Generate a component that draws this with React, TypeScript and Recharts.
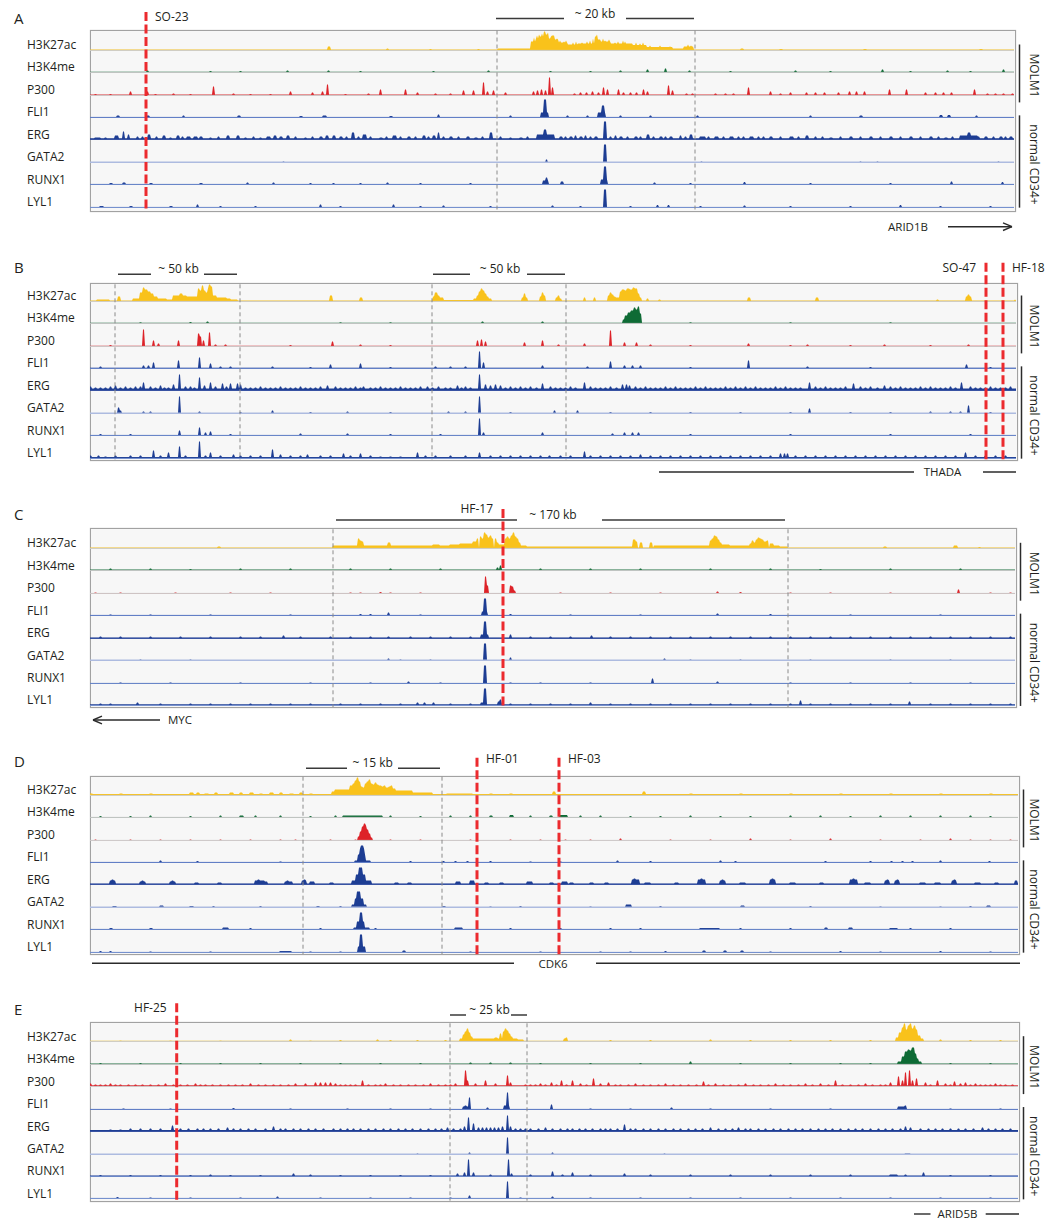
import React from 'react';
import { ComposedChart, Area, XAxis, YAxis, ReferenceLine } from 'recharts';

// A bump is [start bin, height (px of track), width in bins (default 2)]
type Bump = number[];

const TRACK_NAMES = ['H3K27ac', 'H3K4me', 'P300', 'FLI1', 'ERG', 'GATA2', 'RUNX1', 'LYL1'];
const TRACK_FILL = ['#f9c21b', '#0e6b35', '#dd2228', '#1d3d93', '#1d3d93', '#1d3d93', '#1d3d93', '#1d3d93'];
const TRACK_BASE = ['#cbcbcb', '#c6c6c6', '#cbcbcb', '#5f7dc6', '#2f4c9f', '#adbbe0', '#6684c9', '#7591cf'];
const TRACK_BASE_W = [1, 1, 1, 1, 1, 2, 1, 1];

// ---------- Panel A (ARID1B locus) ----------
const A_H3K27AC: Bump[] = [[238, 4, 3], [297, 2], [340, 1.5], [388, 1.5], [408, 2, 33], [441, 9, 5], [444, 13, 1], [446, 12, 4], [447, 15, 1], [449, 16, 1], [450, 14, 4], [452, 17, 1], [454, 19, 2], [456, 16, 3], [458, 18, 1], [459, 12, 3], [461, 14, 1], [462, 15, 3], [465, 11, 4], [467, 12, 1], [469, 8, 9], [470, 10, 1], [474, 9, 1], [476, 10, 1], [478, 6, 10], [483, 8, 1], [486, 9, 1], [488, 7, 17], [492, 8, 1], [497, 9, 1], [500, 10, 1], [503, 12, 1], [505, 14, 3], [507, 16, 1], [508, 11, 3], [511, 9, 10], [513, 12, 1], [515, 10, 1], [519, 11, 1], [521, 7, 9], [525, 8, 1], [528, 9, 1], [530, 7, 13], [533, 10, 1], [535, 9, 1], [540, 7, 1], [543, 5.5, 14], [546, 8, 1], [550, 7, 1], [553, 8, 1], [557, 3.5, 26], [560, 5, 1], [570, 5, 1], [580, 4, 1], [583, 2, 11], [594, 4, 10], [598, 6, 1], [601, 5, 1], [651, 2, 3], [690, 1.5, 3], [774, 1.5, 3], [890, 1.5, 3]];
const A_H3K4ME: Bump[] = [[57, 2], [120, 1.5], [150, 1.5], [197, 2], [238, 2], [270, 1.5], [343, 1.5], [398, 2], [460, 1.5], [500, 1.5], [530, 2], [557, 3], [575, 4], [599, 2], [640, 1.5], [705, 2], [740, 1.5], [792, 3], [820, 1.5], [857, 2], [880, 1.5], [913, 3]];
const A_P300: Bump[] = [[5, 1.5], [20, 1.5], [40, 4], [57, 4], [65, 1.5], [83, 2], [100, 1.5], [123, 9], [143, 2], [160, 1.5], [180, 1.5], [200, 4], [222, 3], [232, 4], [237, 11], [255, 1.5], [278, 2], [290, 6], [315, 6], [327, 3], [345, 2], [360, 2], [373, 5], [383, 5], [393, 13], [397, 4], [403, 5], [415, 3], [443, 4], [447, 5], [451, 6], [455, 5], [459, 18], [462, 8], [484, 2], [490, 3], [496, 3], [502, 4], [508, 3], [513, 8], [517, 6], [528, 6], [533, 3], [540, 3], [546, 3], [553, 6], [557, 4], [578, 10], [582, 5], [596, 2], [602, 2], [625, 2], [635, 2], [643, 2], [658, 8], [680, 4], [690, 2], [700, 3], [716, 3], [725, 3], [734, 3], [748, 3], [759, 4], [766, 4], [774, 4], [799, 6], [816, 6], [835, 3], [845, 3], [853, 3], [861, 3], [884, 6], [897, 2], [905, 2], [913, 2], [922, 2]];
const A_FLI1: Bump[] = [[27, 2, 3], [57, 2, 3], [93, 2], [148, 2, 3], [210, 1.5, 3], [233, 2, 4], [300, 1.5, 3], [348, 3], [420, 2], [451, 5, 8], [454, 18, 3], [477, 2], [497, 2], [508, 5, 8], [512, 12, 3], [530, 2], [560, 2], [607, 2], [720, 2], [770, 2, 3], [850, 2.5, 3], [858, 2.5, 3], [886, 2]];
const A_ERG: Bump[] = [[5, 2, 6], [15, 2], [25, 4, 4], [33, 8], [38, 5], [47, 3], [52, 3], [58, 5, 3], [66, 3], [73, 4, 3], [80, 2], [87, 4, 3], [92, 3], [97, 3, 4], [104, 3, 4], [110, 3, 3], [120, 2], [128, 3], [137, 4, 3], [147, 4, 3], [155, 2], [163, 3], [170, 2], [177, 3, 4], [184, 4, 3], [190, 3, 3], [197, 4, 3], [205, 3], [215, 2], [222, 3], [230, 3, 3], [236, 4, 3], [243, 4, 3], [250, 3, 3], [256, 3], [262, 7, 3], [268, 3], [273, 5, 4], [280, 3], [290, 2, 3], [296, 3], [303, 4, 4], [310, 3], [318, 3, 3], [325, 3], [333, 4, 3], [338, 3], [343, 4, 3], [348, 7], [353, 3], [360, 3, 3], [368, 3], [377, 3, 3], [385, 2, 3], [392, 3], [400, 7, 3], [410, 3], [420, 2], [430, 2, 3], [437, 3], [447, 5, 18], [454, 10, 3], [462, 4], [470, 3, 3], [475, 3], [480, 3, 3], [485, 4], [490, 3, 3], [495, 4], [500, 3], [505, 3, 3], [514, 18, 3], [520, 3], [525, 4], [530, 3, 3], [537, 3], [545, 3, 3], [550, 3], [557, 5, 3], [563, 3], [570, 3, 3], [575, 3], [580, 3, 3], [590, 4], [595, 3], [600, 5, 3], [610, 3, 6], [618, 3], [625, 3, 4], [633, 3], [640, 3, 4], [648, 3], [653, 3], [660, 3, 4], [668, 3], [673, 3], [680, 3, 3], [690, 3], [700, 3, 4], [708, 3], [716, 4, 3], [725, 3], [732, 3], [740, 2, 3], [750, 3], [760, 3, 3], [770, 3], [780, 3, 3], [790, 3], [800, 3, 3], [810, 3], [820, 3, 3], [830, 3], [840, 3, 3], [848, 3], [855, 2, 3], [862, 3], [870, 4, 18], [878, 7, 3], [888, 3], [895, 3, 3], [903, 3], [910, 3, 3], [915, 3], [920, 3, 3]];
const A_GATA2: Bump[] = [[193, 1], [456, 3], [514, 18, 3], [611, 1], [770, 1], [787, 1], [908, 1]];
const A_RUNX1: Bump[] = [[20, 1.5, 3], [33, 2, 3], [60, 1.5, 3], [110, 1.5, 3], [157, 2], [183, 2], [220, 1.5], [243, 1.5], [270, 1.5], [297, 2], [330, 1.5], [380, 1.5], [453, 4, 6], [456, 7], [471, 3, 3], [511, 5, 7], [514, 18, 3], [564, 2], [600, 1.5], [654, 2.5], [720, 1.5], [800, 1.5], [861, 3], [912, 2.5]];
const A_LYL1: Bump[] = [[10, 1.5, 4], [40, 1.5, 3], [80, 1.5, 3], [107, 3], [130, 1.5], [165, 1.5], [230, 3], [250, 1.5], [303, 3], [330, 1.5], [353, 2], [400, 1.5], [462, 2], [490, 1.5], [514, 18, 3], [540, 1.5], [567, 2.5], [578, 2.5], [610, 1.5], [654, 2], [700, 1.5], [760, 1.5], [810, 2.5], [850, 1.5], [900, 1.5]];
const A_FLOOR = [0.8, 0.7, 0.8, 0.5, 1.2, 0, 0.5, 0.5];

// ---------- Panel B (THADA locus) ----------
const B_H3K27AC: Bump[] = [[7, 2, 13], [28, 5, 3], [43, 3, 7], [50, 9, 3], [53, 14], [55, 12, 3], [58, 10, 3], [61, 8, 3], [64, 5, 4], [68, 3, 9], [77, 2, 6], [83, 6, 7], [90, 8, 3], [93, 6, 4], [97, 5, 11], [108, 13], [110, 11], [112, 16], [114, 11], [116, 9], [118, 13, 1], [119, 17], [121, 15], [123, 6, 4], [127, 4, 10], [137, 3, 4], [140, 2, 8], [240, 6, 3], [270, 4, 3], [343, 5], [345, 9, 3], [348, 6], [350, 4, 4], [354, 1.5, 30], [384, 3, 3], [387, 6], [389, 10], [391, 13], [393, 11], [395, 8], [397, 5], [399, 3, 3], [432, 4], [434, 8], [436, 4], [450, 5], [452, 9], [454, 6], [466, 4], [468, 6], [470, 3], [494, 4], [504, 4], [518, 6], [520, 9], [522, 7], [524, 5], [526, 4, 4], [530, 10], [532, 12, 3], [535, 11], [537, 13, 3], [540, 12, 3], [543, 14], [545, 13, 3], [548, 8], [550, 4], [557, 3], [569, 2], [658, 4, 3], [726, 4, 3], [847, 2], [876, 5], [878, 7], [880, 5], [925, 2]];
const B_H3K4ME: Bump[] = [[50, 1.2], [100, 1.5], [117, 2], [250, 1.2], [300, 1.2], [392, 2], [452, 2], [533, 4, 3], [535, 8, 3], [538, 11, 3], [541, 13, 3], [544, 16], [546, 14], [548, 17], [550, 10], [600, 1.2], [700, 1.2], [800, 1.2]];
const B_P300: Bump[] = [[20, 1.5], [53, 17], [63, 6], [68, 3], [88, 6], [108, 13], [110, 10], [113, 6], [119, 14], [125, 2], [135, 2], [200, 1.5], [242, 5], [270, 2], [300, 1.5], [387, 6], [391, 7], [395, 5], [434, 4], [452, 6], [468, 2], [494, 3], [520, 16], [534, 4], [546, 4], [560, 2], [600, 1.5], [658, 3], [700, 1.5], [717, 2], [760, 1.5], [794, 2], [840, 1.5], [878, 2]];
const B_FLI1: Bump[] = [[10, 2], [53, 3], [58, 3], [63, 6], [88, 8], [109, 11], [120, 5], [130, 2], [140, 2], [182, 2], [220, 1.5], [240, 4], [270, 5], [300, 1.5], [345, 2], [360, 2], [375, 2], [389, 17], [393, 6], [452, 3], [497, 2], [520, 7], [534, 3], [542, 3], [550, 3], [600, 1.5], [658, 8], [717, 2], [780, 1.5], [876, 4], [900, 1.5]];
const B_ERG: Bump[] = [[0, 4], [5, 3], [10, 3], [15, 3], [20, 4], [25, 5], [30, 3], [35, 4], [40, 3], [45, 4], [50, 4], [53, 8], [60, 4], [65, 3], [70, 5], [74, 3], [78, 3], [83, 6], [89, 16], [95, 4], [100, 4], [104, 3], [109, 13], [114, 5], [120, 8], [125, 4], [132, 7], [136, 4], [140, 7], [147, 7], [150, 6], [155, 3], [160, 3], [165, 3], [170, 4], [175, 3], [180, 3], [185, 3], [190, 4], [195, 3], [200, 3], [205, 3], [210, 4], [215, 3], [220, 3], [225, 3], [230, 4], [237, 5], [245, 4], [250, 3], [255, 3], [260, 3], [265, 4], [270, 3], [273, 4], [280, 3], [285, 3], [290, 4], [295, 3], [300, 3], [305, 3], [310, 4], [315, 3], [320, 3], [325, 3], [330, 4], [337, 4], [342, 3], [348, 4], [355, 3], [360, 3], [367, 5], [371, 3], [375, 4], [380, 3], [389, 16], [395, 6], [400, 5], [405, 6], [410, 5], [415, 3], [420, 4], [425, 3], [430, 4], [435, 3], [440, 4], [446, 3], [452, 7], [460, 4], [465, 3], [470, 3], [475, 3], [480, 4], [485, 3], [494, 8], [500, 4], [505, 3], [510, 3], [515, 3], [520, 4], [526, 3], [532, 6], [536, 6], [539, 5], [545, 4], [550, 3], [555, 4], [560, 3], [565, 3], [570, 3], [575, 4], [580, 3], [585, 4], [590, 3], [595, 3], [600, 3], [605, 4], [610, 3], [615, 4], [620, 3], [625, 3], [630, 3], [635, 4], [640, 3], [645, 4], [650, 3], [655, 4], [660, 3], [665, 4], [670, 3], [675, 3], [680, 3], [685, 4], [690, 3], [695, 4], [700, 3], [705, 3], [710, 3], [719, 8], [725, 4], [730, 3], [735, 4], [740, 3], [745, 3], [750, 3], [755, 4], [763, 7], [770, 4], [775, 3], [780, 4], [787, 3], [794, 5], [800, 4], [805, 3], [810, 4], [815, 3], [820, 3], [825, 3], [830, 4], [835, 3], [840, 4], [845, 3], [850, 3], [855, 3], [860, 4], [865, 3], [871, 8], [880, 4], [885, 3], [890, 3], [895, 3], [900, 4], [905, 3], [910, 3], [915, 3], [920, 4]];
const B_GATA2: Bump[] = [[28, 6], [30, 3], [53, 2], [60, 2], [89, 17], [109, 2], [150, 1.5], [182, 3], [220, 1.5], [257, 2], [300, 1.5], [358, 2], [375, 2], [389, 17], [420, 1.5], [464, 3], [487, 3], [520, 1.5], [560, 1.5], [600, 1.5], [650, 1.5], [700, 1.5], [719, 5], [760, 1.5], [800, 1.5], [840, 2], [860, 2], [870, 2], [878, 8], [900, 1.5]];
const B_RUNX1: Bump[] = [[10, 1.5], [40, 1.5], [89, 5], [109, 8], [115, 3], [120, 4], [140, 1.5], [210, 2], [257, 2], [300, 1.5], [350, 1.5], [389, 17], [393, 3], [452, 3], [522, 2], [534, 3], [542, 3], [548, 3], [600, 1.5], [700, 1.5], [800, 1.5], [880, 1.5]];
const B_LYL1: Bump[] = [[0, 3], [8, 3], [15, 2], [25, 3], [40, 3], [50, 3], [63, 8], [70, 3], [78, 6], [89, 12], [95, 3], [109, 17], [115, 3], [120, 6], [130, 3], [143, 4], [150, 3], [160, 3], [170, 3], [182, 9], [190, 4], [200, 3], [210, 3], [217, 4], [230, 3], [240, 3], [253, 5], [260, 3], [270, 5], [280, 3], [290, 2], [300, 2], [310, 2], [327, 6], [335, 3], [345, 3], [360, 3], [375, 3], [389, 6], [400, 3], [410, 3], [420, 3], [430, 3], [440, 3], [450, 3], [459, 3], [470, 3], [480, 3], [494, 7], [500, 3], [510, 3], [520, 3], [530, 3], [540, 3], [550, 4], [560, 3], [570, 3], [580, 3], [590, 3], [600, 3], [610, 3], [620, 3], [630, 3], [640, 3], [650, 3], [660, 3], [670, 3], [680, 3], [690, 5], [694, 5], [697, 5], [705, 3], [715, 3], [725, 3], [735, 3], [745, 3], [755, 3], [765, 3], [775, 3], [785, 3], [795, 3], [805, 3], [815, 3], [825, 3], [835, 3], [845, 3], [855, 3], [865, 3], [875, 6], [885, 3], [895, 3], [905, 3], [915, 3]];
const B_FLOOR = [0.8, 0.7, 0.7, 0.7, 2, 0.3, 0.5, 1.5];

// ---------- Panel C (MYC locus) ----------
const C_H3K27AC: Bump[] = [[128, 2, 3], [243, 3, 25], [268, 10], [270, 8], [272, 7], [274, 3, 24], [298, 6, 3], [301, 3, 42], [343, 4, 7], [350, 3, 10], [360, 4, 10], [370, 5, 13], [383, 7, 4], [387, 10], [390, 12], [392, 10], [394, 16], [396, 14], [398, 11], [400, 13], [402, 10], [405, 10], [407, 6], [409, 4, 6], [415, 10], [417, 12], [419, 10], [421, 13], [423, 16], [425, 12], [427, 10], [429, 6], [431, 3, 6], [437, 2, 106], [543, 9, 3], [546, 7], [550, 6, 3], [560, 6, 3], [564, 3, 56], [620, 8], [622, 10], [624, 13], [626, 12], [628, 9], [630, 6], [632, 4, 8], [640, 3, 20], [660, 5, 3], [662, 8], [664, 6], [666, 9], [668, 11], [670, 10], [672, 9], [674, 7, 3], [677, 8], [680, 5, 4], [684, 3, 6], [690, 2, 8], [794, 2, 3], [864, 3, 4], [889, 1.5]];
const C_H3K4ME: Bump[] = [[20, 2], [60, 2], [100, 1.5], [150, 2], [200, 2], [260, 2], [300, 2], [350, 2], [407, 3], [410, 5], [450, 2], [500, 2], [550, 2], [620, 2], [680, 2], [730, 1.5], [800, 2], [870, 2]];
const C_P300: Bump[] = [[5, 1], [30, 1], [85, 1], [140, 1], [180, 1], [260, 1], [270, 1], [290, 1.5], [300, 1], [330, 1], [395, 17], [397, 8], [420, 8], [422, 7], [424, 3], [470, 1], [520, 1], [570, 1], [627, 2], [650, 1.5], [700, 1], [740, 1], [800, 1], [868, 4], [900, 1], [920, 1]];
const C_FLI1: Bump[] = [[20, 1], [60, 1], [120, 1], [200, 1], [270, 1.5], [280, 1.5], [298, 3], [330, 1], [392, 4, 6], [394, 17, 3], [420, 1.5], [480, 1], [550, 1], [627, 2], [680, 1.5], [760, 1], [850, 1]];
const C_ERG: Bump[] = [[10, 2], [30, 2], [60, 2], [90, 2], [120, 2], [150, 2], [170, 2], [193, 3], [210, 2], [240, 2], [260, 2], [280, 2], [298, 2], [320, 2], [340, 2], [360, 2], [380, 2], [391, 4, 8], [394, 17, 3], [420, 4], [440, 2], [460, 2], [480, 2], [501, 3], [520, 2], [540, 2], [560, 2], [580, 2], [600, 2], [620, 2], [640, 2], [660, 2], [680, 2], [700, 2], [720, 2], [740, 2], [760, 2], [780, 2], [800, 2], [820, 2], [840, 2], [860, 2], [880, 2], [900, 2], [920, 2]];
const C_GATA2: Bump[] = [[50, 1], [100, 0.8], [298, 2], [310, 1], [340, 1], [394, 17, 3], [420, 3], [574, 2], [600, 1], [650, 1], [720, 1], [800, 1], [860, 1]];
const C_RUNX1: Bump[] = [[30, 1], [80, 1], [150, 1], [220, 1], [280, 1], [318, 2], [350, 1], [394, 18, 3], [420, 1], [450, 1], [500, 1], [562, 5], [627, 2], [700, 1], [760, 1], [820, 1], [880, 1]];
const C_LYL1: Bump[] = [[10, 2], [20, 2], [47, 3], [70, 2], [100, 2], [120, 2], [140, 2], [160, 2], [180, 2], [200, 2], [220, 2], [250, 2], [270, 2], [290, 2], [310, 2], [327, 3], [334, 3], [343, 3], [360, 2], [380, 2], [391, 3, 6], [394, 17, 3], [408, 4], [410, 6], [420, 2], [440, 2], [460, 2], [480, 2], [500, 3], [520, 2], [540, 2], [560, 2], [580, 2], [600, 2], [620, 2], [640, 2], [660, 2], [680, 2], [700, 2], [710, 5], [720, 2], [740, 2], [760, 2], [780, 2], [800, 2], [819, 4], [840, 2], [860, 2], [880, 2], [900, 2], [920, 2]];
const C_FLOOR = [0.8, 1, 0.3, 0.3, 1, 0.2, 0.3, 1.2];

// ---------- Panel D (CDK6 locus) ----------
const D_H3K27AC: Bump[] = [[0, 2, 3], [30, 2, 3], [60, 2, 3], [100, 3, 4], [107, 3, 3], [115, 2, 4], [125, 3, 3], [140, 3, 4], [150, 3, 3], [160, 3, 4], [170, 2, 3], [180, 3, 4], [190, 3, 3], [200, 2, 4], [210, 3, 3], [220, 2, 3], [242, 4, 3], [245, 6, 12], [257, 6, 3], [260, 10, 3], [263, 12], [265, 15], [267, 18], [269, 14], [271, 9], [273, 8], [275, 12], [277, 14], [279, 16], [281, 12], [283, 11], [285, 13], [287, 11], [289, 10, 3], [292, 9], [294, 10], [296, 8, 3], [299, 9], [301, 10], [303, 7, 3], [306, 5, 4], [310, 5, 13], [323, 3, 20], [357, 2, 26], [400, 2, 3], [420, 2, 3], [463, 4, 3], [553, 4, 3], [600, 2, 3], [650, 2, 3], [700, 2, 3], [750, 2, 3], [800, 2, 3], [850, 2, 3], [900, 2, 3]];
const D_H3K4ME: Bump[] = [[10, 1.5], [40, 1.5], [60, 2], [100, 1.5], [130, 2], [150, 2, 4], [165, 2], [190, 2], [220, 1.5], [245, 2], [253, 2, 40], [300, 2], [330, 1.5], [360, 2], [380, 2], [400, 2, 3], [420, 2.5, 4], [440, 2], [460, 2, 3], [470, 2.5, 8], [490, 2], [510, 2], [540, 1.5], [570, 1.5], [600, 2], [630, 1.5], [660, 1.5], [700, 2], [730, 2], [760, 1.5], [790, 2], [820, 2], [850, 2], [880, 2], [900, 1.5]];
const D_P300: Bump[] = [[5, 1], [40, 1], [70, 1], [100, 1], [130, 1], [160, 1], [190, 1], [205, 1], [240, 1], [265, 1], [268, 4, 3], [270, 9], [272, 14], [274, 17], [276, 15, 1], [277, 11], [279, 7], [281, 3], [300, 1], [330, 1], [380, 1], [420, 1], [450, 1], [475, 1], [500, 1], [530, 2], [580, 1], [620, 1], [660, 2], [700, 1], [740, 2], [790, 1], [830, 1], [860, 2], [880, 1], [900, 1], [920, 1]];
const D_FLI1: Bump[] = [[70, 2], [107, 1.5], [190, 1], [265, 2, 16], [268, 8, 8], [270, 14, 5], [271, 17, 3], [320, 1.5], [353, 1.5], [365, 1.5], [377, 1.5], [400, 1.5], [440, 1], [470, 1], [527, 2], [560, 1.5], [630, 2], [645, 1.5], [735, 1.5], [780, 1.5], [801, 1.5], [812, 1.5], [822, 1.5], [850, 2], [899, 1.5]];
const D_ERG: Bump[] = [[20, 4, 6], [22, 5], [50, 3, 6], [52, 4], [80, 3, 6], [82, 4], [105, 2, 4], [128, 2, 4], [165, 4, 10], [168, 5], [170, 3, 8], [195, 3, 8], [197, 4], [212, 4, 5], [214, 5], [220, 3, 5], [240, 2, 4], [262, 4, 20], [266, 10, 10], [269, 17, 4], [305, 2, 4], [318, 2, 4], [366, 3, 5], [380, 4, 5], [395, 2, 4], [410, 2, 4], [437, 3, 6], [460, 2, 4], [472, 3, 6], [480, 2, 4], [500, 2, 4], [515, 2, 4], [542, 5, 8], [544, 6], [555, 2, 6], [585, 2, 4], [608, 5, 8], [611, 6], [630, 4, 6], [632, 5], [650, 2, 6], [680, 5, 6], [682, 6], [700, 2, 6], [730, 2, 4], [760, 5, 8], [763, 6], [775, 2, 6], [795, 4, 5], [797, 5], [805, 4, 5], [807, 5], [830, 2, 6], [845, 2, 6], [862, 4, 5], [864, 5], [885, 2, 6], [905, 2, 4], [925, 4, 3]];
const D_GATA2: Bump[] = [[23, 1.5, 4], [70, 2, 4], [100, 1.5, 4], [123, 1.5], [170, 1.5], [227, 1.5, 3], [250, 1.5], [262, 3, 15], [265, 9, 9], [267, 16, 4], [353, 1.5, 3], [400, 1], [430, 1.5], [500, 1], [536, 3, 6], [570, 1.5], [651, 2, 4], [720, 1.5], [790, 1], [850, 1], [880, 1.5], [897, 2, 4]];
const D_RUNX1: Bump[] = [[20, 1.5, 3], [60, 1.5, 3], [133, 2, 6], [160, 1.5], [230, 1.5], [264, 2, 16], [267, 8, 8], [270, 17, 3], [285, 1.5], [365, 2, 8], [420, 1.5], [470, 1.5], [520, 1.5], [550, 1.5], [610, 1.5, 20], [650, 1.5], [700, 1.5], [735, 2, 3], [759, 2, 4], [800, 1.5, 8], [820, 1.5], [860, 1.5]];
const D_LYL1: Bump[] = [[10, 1.5], [20, 1.5], [60, 1], [120, 1], [190, 1.5, 12], [220, 1], [250, 1], [268, 6, 8], [270, 18, 3], [313, 2, 3], [380, 1], [450, 1], [510, 1], [540, 1], [575, 1.5], [613, 2, 3], [634, 2, 3], [651, 2, 3], [680, 1], [750, 1.5], [790, 1], [850, 1.5], [900, 1]];
const D_FLOOR = [1.3, 0.5, 0.2, 0.3, 0.8, 0.3, 0.4, 0.3];

// ---------- Panel E (ARID5B locus) ----------
const E_H3K27AC: Bump[] = [[30, 1], [80, 1], [130, 1], [200, 2], [220, 1], [250, 1.5], [287, 2], [300, 1.5], [327, 1.5], [355, 1.5], [370, 3, 3], [373, 7], [375, 10], [377, 13], [379, 9], [381, 5], [383, 3, 30], [405, 4, 3], [410, 8], [413, 10], [415, 13], [417, 11], [419, 8], [421, 5], [423, 3, 5], [428, 2, 6], [474, 3, 3], [476, 4], [520, 1.5], [560, 1.5], [620, 2], [660, 1.5], [700, 1.5], [740, 1.5], [780, 1.5], [806, 4, 3], [809, 9, 3], [812, 14], [814, 18], [816, 12], [818, 16], [820, 18], [822, 13], [824, 16], [826, 12], [828, 6, 3], [831, 3, 3], [850, 2], [880, 1.5], [910, 1.5]];
const E_H3K4ME: Bump[] = [[10, 1.5], [50, 1.5], [90, 1.5], [130, 1.5], [170, 1.5], [210, 1.5], [250, 1.5], [290, 1.5], [330, 1.5], [380, 2], [400, 2], [420, 2], [450, 1.5], [500, 1.5], [550, 1.5], [600, 3], [650, 1.5], [700, 1.5], [750, 1.5], [780, 1.5], [808, 3, 4], [812, 8, 3], [815, 13, 3], [818, 15], [820, 14], [822, 17, 3], [825, 11], [827, 6], [829, 3, 3], [860, 1.5], [900, 1.5]];
const E_P300: Bump[] = [[0, 3], [5, 2], [10, 2], [15, 2], [20, 3], [25, 2], [30, 2], [38, 2], [45, 2], [52, 2], [60, 2], [68, 2], [75, 3], [83, 2], [90, 2], [97, 2], [105, 3], [110, 2], [115, 2], [122, 2], [130, 2], [138, 2], [145, 2], [152, 2], [160, 3], [168, 2], [175, 2], [183, 2], [190, 2], [198, 2], [205, 3], [215, 3], [225, 4], [230, 4], [235, 4], [240, 4], [245, 3], [250, 2], [255, 2], [260, 2], [265, 2], [272, 6], [278, 2], [285, 2], [290, 2], [295, 3], [303, 2], [310, 2], [318, 2], [325, 2], [333, 2], [340, 3], [348, 2], [355, 2], [360, 2], [365, 3], [375, 16], [377, 6], [385, 3], [395, 6], [405, 3], [417, 11], [420, 4], [435, 2], [440, 2], [445, 2], [450, 3], [455, 2], [461, 4], [466, 2], [471, 6], [476, 2], [482, 6], [490, 3], [496, 2], [503, 8], [510, 3], [518, 4], [525, 2], [530, 2], [538, 2], [545, 3], [553, 2], [560, 2], [568, 2], [575, 3], [583, 2], [590, 2], [598, 2], [606, 2], [613, 5], [618, 2], [625, 3], [633, 2], [640, 2], [648, 2], [655, 3], [663, 2], [670, 2], [678, 2], [685, 3], [693, 2], [700, 2], [708, 2], [715, 3], [722, 2], [730, 3], [738, 2], [745, 6], [752, 2], [760, 2], [768, 2], [775, 3], [782, 2], [790, 2], [795, 2], [800, 4], [808, 10], [812, 6], [815, 14], [819, 16], [822, 6], [826, 8], [835, 4], [840, 2], [847, 6], [855, 3], [860, 2], [864, 5], [870, 3], [875, 4], [880, 2], [885, 3], [890, 2], [895, 2], [900, 2], [905, 3], [910, 2], [915, 2], [922, 2]];
const E_FLI1: Bump[] = [[33, 1], [80, 1], [143, 1.5], [200, 1], [257, 1], [300, 1], [340, 1], [373, 3, 6], [375, 4], [379, 12], [397, 2], [414, 4, 6], [417, 17], [461, 5], [500, 1], [540, 1], [581, 2], [620, 1], [680, 1], [740, 1], [808, 3, 8], [815, 4], [860, 1], [910, 1]];
const E_ERG: Bump[] = [[20, 2], [30, 2], [40, 3], [50, 3], [60, 3], [70, 3], [82, 6], [90, 3], [98, 3], [107, 3], [113, 3], [120, 3], [128, 3], [137, 4], [143, 3], [150, 3], [158, 3], [165, 3], [175, 3], [183, 5], [190, 3], [195, 3], [203, 3], [210, 3], [218, 3], [225, 3], [233, 3], [243, 3], [250, 3], [257, 3], [263, 3], [270, 3], [278, 3], [285, 3], [293, 3], [300, 3], [308, 3], [315, 3], [322, 3], [330, 3], [338, 3], [345, 3], [351, 3], [357, 4], [363, 3], [370, 3], [374, 5], [378, 14], [383, 8], [388, 4], [392, 4], [396, 4], [400, 4], [404, 4], [408, 4], [412, 5], [417, 16], [420, 5], [425, 3], [430, 3], [435, 3], [440, 3], [448, 3], [455, 4], [462, 3], [470, 3], [477, 3], [482, 3], [489, 3], [495, 3], [502, 3], [510, 3], [515, 3], [520, 3], [527, 3], [534, 7], [540, 3], [545, 3], [553, 3], [560, 3], [568, 3], [575, 3], [583, 3], [590, 3], [598, 3], [605, 3], [612, 3], [620, 4], [628, 3], [635, 3], [642, 3], [648, 4], [655, 3], [660, 3], [668, 3], [675, 3], [683, 3], [690, 3], [698, 3], [705, 3], [712, 3], [720, 3], [728, 3], [735, 3], [742, 3], [750, 3], [758, 3], [765, 3], [772, 3], [780, 3], [788, 3], [795, 3], [802, 3], [810, 3], [815, 5], [820, 4], [830, 3], [838, 3], [845, 3], [852, 3], [860, 3], [868, 3], [875, 3], [883, 3], [892, 4], [898, 3], [905, 3], [912, 3], [920, 3]];
const E_GATA2: Bump[] = [[327, 0.8], [379, 2], [417, 17], [462, 2], [574, 0.8], [815, 1, 6]];
const E_RUNX1: Bump[] = [[10, 1.5], [40, 1.5], [70, 1.5], [100, 1.5], [120, 2], [140, 1.5], [170, 1.5], [203, 3], [220, 2], [250, 1.5], [280, 1.5], [310, 1.5], [340, 1.5], [367, 3], [374, 4], [378, 17], [383, 4], [400, 2], [418, 17], [421, 3], [440, 2], [462, 5], [472, 2], [482, 4], [500, 2], [534, 3], [560, 2], [600, 2], [640, 2], [680, 2], [720, 2], [760, 2], [800, 2, 8], [815, 2], [833, 4], [860, 1.5], [900, 1.5]];
const E_LYL1: Bump[] = [[27, 1.5], [60, 1], [100, 1], [150, 1], [187, 2], [230, 1], [280, 1], [320, 1], [360, 1], [379, 3], [417, 17], [430, 1], [462, 2], [500, 1], [550, 1], [600, 1], [650, 1], [700, 1], [750, 1], [800, 1], [850, 1], [900, 1]];
const E_FLOOR = [0.7, 1, 1.2, 0.3, 1.5, 0, 0.8, 0.5];

// ---------- Panel layout & annotations ----------
const PANEL_LETTERS = ['A', 'B', 'C', 'D', 'E'];
const PANEL_TRACKS = [
  [A_H3K27AC, A_H3K4ME, A_P300, A_FLI1, A_ERG, A_GATA2, A_RUNX1, A_LYL1],
  [B_H3K27AC, B_H3K4ME, B_P300, B_FLI1, B_ERG, B_GATA2, B_RUNX1, B_LYL1],
  [C_H3K27AC, C_H3K4ME, C_P300, C_FLI1, C_ERG, C_GATA2, C_RUNX1, C_LYL1],
  [D_H3K27AC, D_H3K4ME, D_P300, D_FLI1, D_ERG, D_GATA2, D_RUNX1, D_LYL1],
  [E_H3K27AC, E_H3K4ME, E_P300, E_FLI1, E_ERG, E_GATA2, E_RUNX1, E_LYL1],
];
const PANEL_FLOORS = [A_FLOOR, B_FLOOR, C_FLOOR, D_FLOOR, E_FLOOR];
const FIRST_BASELINE = [50, 301, 548.3, 795, 1041.7];
const ROW_PITCH = 22.45;
const BOX_TOP = [29.5, 283.3, 528.3, 775.7, 1022.3];
const BOX_BOTTOM = [212, 460.7, 708, 955, 1201.7];
const BOX_RIGHT = [1016, 1018, 1017, 1020, 1020];
const LETTER_BASE = [24, 273.3, 519.5, 767, 1014.5];
const ORIGIN = 90;

// grey dashed region boundaries (bins)
const REGION_EDGES = [[407, 605], [25, 150, 342, 476], [243, 698], [213, 352], [360, 437]];
// targeted sites (red dashed)
const SITE_NAMES = [['SO-23'], ['SO-47', 'HF-18'], ['HF-17'], ['HF-01', 'HF-03'], ['HF-25']];
const SITE_POS = [[56], [896, 913], [413], [387, 469], [86.7]];
const SITE_SIDE = [['r'], ['l', 'r'], ['l'], ['r', 'r'], ['l']];
const SITE_TOP = [12, 262.7, 509, 757.7, 1003.3];
const SITE_LABEL_BASE = [20.7, 272, 513.3, 763.3, 1011.7];
// scale bars: [text, centre, leftA, leftB, rightA, rightB]
const SCALE_BARS = [
  [['~ 20 kb', 505, 406, 474, 536, 604]],
  [['~ 50 kb', 88.5, 28, 61, 114, 147], ['~ 50 kb', 410, 343, 380, 437, 475]],
  [['~ 170 kb', 463, 246, 427, 512, 695]],
  [['~ 15 kb', 282.7, 216, 257, 308, 350]],
  [['~ 25 kb', 399.5, 360, 376, 421, 437]],
];
const SCALE_Y = [18.5, 274.3, 520, 768.3, 1015];
// gene annotations
const GENE_NAMES = ['ARID1B', 'THADA', 'MYC', 'CDK6', 'ARID5B'];
const GENE_TEXT_X = [818, 852.5, 78, 463, 867.5];
const GENE_ANCHOR = ['middle', 'middle', 'start', 'middle', 'middle'];
const GENE_Y = [226.7, 472, 720, 963.3, 1214];
const GENE_SEGMENTS = [[[858, 922]], [[569, 824], [893, 926]], [[3, 70]], [[2, 424], [506, 930]], [[824, 840.5], [895.7, 929]]];
const GENE_ARROW = ['right', '', 'left', '', ''];

const FONT = '"Open Sans", "Noto Sans", sans-serif';

function toSeries(bumps: Bump[], floor: number, width: number) {
  const v: number[] = new Array(width + 1).fill(floor);
  for (const b of bumps) {
    const s = b[0];
    const h = b[1];
    const w = b.length > 2 ? b[2] : 2;
    const a = Math.max(0, Math.round(s));
    const e = Math.min(width, Math.max(a + 1, Math.round(s + w)));
    for (let i = a; i < e; i++) if (h > v[i]) v[i] = h;
  }
  return v.map((y, x) => ({ x, y }));
}

function Track({ bumps, floor, idx, width, top }: { bumps: Bump[]; floor: number; idx: number; width: number; top: number }) {
  const data = React.useMemo(() => toSeries(bumps, floor, width), [bumps, floor, width]);
  return (
    <div style={{ position: 'absolute', left: ORIGIN, top, width, height: 22 }}>
      <ComposedChart width={width} height={22} data={data} margin={{ top: 0, right: 0, bottom: 0, left: 0 }}>
        <XAxis type="number" dataKey="x" domain={[0, width]} hide />
        <YAxis type="number" domain={[-0.6, 21.4]} hide allowDataOverflow />
        <ReferenceLine y={0} stroke={TRACK_BASE[idx]} strokeWidth={TRACK_BASE_W[idx]} ifOverflow="visible" />
        <Area
          type="linear"
          dataKey="y"
          stroke="none"
          fill={TRACK_FILL[idx]}
          fillOpacity={1}
          baseValue={0}
          dot={false}
          activeDot={false}
          isAnimationActive={false}
        />
      </ComposedChart>
    </div>
  );
}

function Overlay() {
  const lines: React.ReactNode[] = [];
  let k = 0;
  const seg = (x1: number, y1: number, x2: number, y2: number, stroke: string, w: number, dash?: string) => {
    lines.push(
      <ReferenceLine
        key={k++}
        segment={[{ x: x1, y: y1 }, { x: x2, y: y2 }]}
        stroke={stroke}
        strokeWidth={w}
        strokeDasharray={dash}
        ifOverflow="visible"
      />
    );
  };
  for (let p = 0; p < 5; p++) {
    for (const e of REGION_EDGES[p]) seg(e, BOX_TOP[p] + 1, e, BOX_BOTTOM[p] - 1, '#8a8a8a', 1, '4 3');
    for (const s of SITE_POS[p]) seg(s, SITE_TOP[p], s, BOX_BOTTOM[p], '#ec2a2e', 3, '9 3.5');
    for (const b of SCALE_BARS[p]) {
      seg(b[2] as number, SCALE_Y[p], b[3] as number, SCALE_Y[p], '#3a3a3a', 1.5);
      seg(b[4] as number, SCALE_Y[p], b[5] as number, SCALE_Y[p], '#3a3a3a', 1.5);
    }
    for (const g of GENE_SEGMENTS[p]) seg(g[0], GENE_Y[p], g[1], GENE_Y[p], '#2b2b2b', 1.4);
    if (GENE_ARROW[p] === 'right') {
      const tip = GENE_SEGMENTS[p][0][1];
      seg(tip, GENE_Y[p], tip - 9, GENE_Y[p] - 3.8, '#2b2b2b', 1.4);
      seg(tip, GENE_Y[p], tip - 9, GENE_Y[p] + 3.8, '#2b2b2b', 1.4);
    } else if (GENE_ARROW[p] === 'left') {
      const tip = GENE_SEGMENTS[p][0][0];
      seg(tip, GENE_Y[p], tip + 9, GENE_Y[p] - 3.8, '#2b2b2b', 1.4);
      seg(tip, GENE_Y[p], tip + 9, GENE_Y[p] + 3.8, '#2b2b2b', 1.4);
    }
  }
  return (
    <div style={{ position: 'absolute', left: 0, top: 0, width: 1045, height: 1221, pointerEvents: 'none' }}>
      <ComposedChart width={1045} height={1221} data={[{ x: 0, y: 0 }]} margin={{ top: 0, right: 0, bottom: 0, left: 0 }}>
        <XAxis type="number" dataKey="x" domain={[-ORIGIN, 1045 - ORIGIN]} hide allowDataOverflow />
        <YAxis type="number" dataKey="y" domain={[0, 1221]} reversed hide allowDataOverflow />
        {lines}
      </ComposedChart>
    </div>
  );
}

function Texts() {
  const items: React.ReactNode[] = [];
  let k = 0;
  for (let p = 0; p < 5; p++) {
    items.push(
      <text key={k++} x={14} y={LETTER_BASE[p]} fontSize={15} fill="#231f20">{PANEL_LETTERS[p]}</text>
    );
    for (let t = 0; t < 8; t++) {
      items.push(
        <text key={k++} x={27} y={FIRST_BASELINE[p] + t * ROW_PITCH - 1} fontSize={12} fill="#231f20">{TRACK_NAMES[t]}</text>
      );
    }
    SITE_NAMES[p].forEach((n, i) => {
      const right = SITE_SIDE[p][i] === 'r';
      items.push(
        <text key={k++} x={ORIGIN + SITE_POS[p][i] + (right ? 9 : -10)} y={SITE_LABEL_BASE[p]} fontSize={12} fill="#231f20" textAnchor={right ? 'start' : 'end'}>{n}</text>
      );
    });
    for (const b of SCALE_BARS[p]) {
      items.push(
        <text key={k++} x={ORIGIN + (b[1] as number)} y={SCALE_Y[p] - 1} fontSize={12} fill="#231f20" textAnchor="middle">{b[0] as string}</text>
      );
    }
    items.push(
      <text key={k++} x={ORIGIN + GENE_TEXT_X[p]} y={GENE_Y[p] + 4.3} fontSize={11.5} fill="#231f20" textAnchor={GENE_ANCHOR[p] as any}>{GENE_NAMES[p]}</text>
    );
    const b0 = FIRST_BASELINE[p];
    const molTop = b0 - 5.5;
    const molBot = b0 + 2 * ROW_PITCH + 7.5;
    const cdTop = b0 + 3 * ROW_PITCH - 2;
    const cdBot = b0 + 7 * ROW_PITCH + 0.5;
    const bx = BOX_RIGHT[p] + 3.5;
    items.push(<line key={k++} x1={bx} x2={bx} y1={molTop} y2={molBot} stroke="#2b2b2b" strokeWidth={1.5} />);
    items.push(<line key={k++} x1={bx} x2={bx} y1={cdTop} y2={cdBot} stroke="#2b2b2b" strokeWidth={1.5} />);
    const my = (molTop + molBot) / 2 + 2;
    const cy = (cdTop + cdBot) / 2 + 3;
    items.push(
      <text key={k++} x={1034} y={my} fontSize={12} fill="#231f20" textAnchor="middle" dominantBaseline="central" transform={`rotate(90 1034 ${my})`}>MOLM1</text>
    );
    items.push(
      <text key={k++} x={1034} y={cy} fontSize={12} fill="#231f20" textAnchor="middle" dominantBaseline="central" transform={`rotate(90 1034 ${cy})`}>normal CD34+</text>
    );
  }
  return (
    <svg width={1045} height={1221} style={{ position: 'absolute', left: 0, top: 0, fontFamily: FONT, pointerEvents: 'none' }}>
      {items}
    </svg>
  );
}

export default function App() {
  return (
    <div style={{ position: 'absolute', left: 0, top: 0, width: 1045, height: 1221, background: '#ffffff', fontFamily: FONT, overflow: 'hidden' }}>
      {PANEL_LETTERS.map((_, p) => (
        <div
          key={'box' + p}
          style={{
            position: 'absolute',
            left: ORIGIN,
            top: BOX_TOP[p],
            width: BOX_RIGHT[p] - ORIGIN,
            height: BOX_BOTTOM[p] - BOX_TOP[p],
            background: '#f7f7f7',
            border: '1px solid #a2a2a2',
            boxSizing: 'border-box',
            boxShadow: '0 0 1px rgba(0,0,0,0.25)',
          }}
        />
      ))}
      {PANEL_TRACKS.map((tracks, p) =>
        tracks.map((bumps, t) => (
          <Track
            key={p + '-' + t}
            bumps={bumps}
            floor={PANEL_FLOORS[p][t]}
            idx={t}
            width={BOX_RIGHT[p] - ORIGIN - 2}
            top={FIRST_BASELINE[p] + t * ROW_PITCH - 21.4}
          />
        ))
      )}
      <Overlay />
      <Texts />
    </div>
  );
}
